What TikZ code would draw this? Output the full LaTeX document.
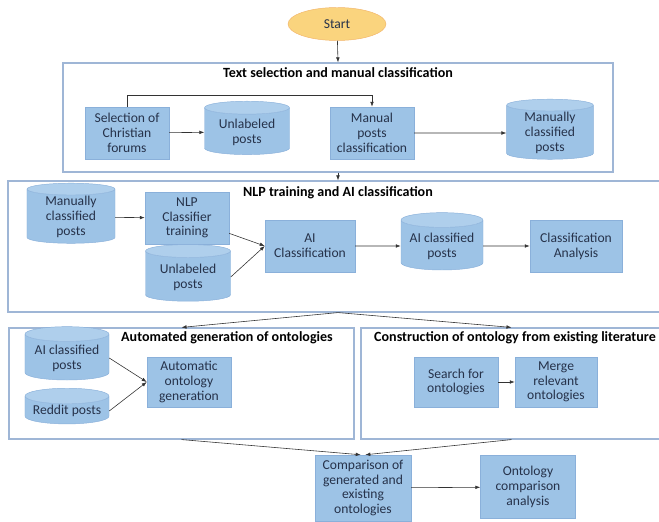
\documentclass[tikz,border=0pt]{standalone}
\usepackage{fontspec}
\setmainfont{Carlito}
\usetikzlibrary{shapes.geometric,arrows.meta}
\definecolor{boxfill}{HTML}{9DC3E6}
\definecolor{boxline}{HTML}{8AB0DA}
\definecolor{capfill}{HTML}{AFCFEC}
\definecolor{frameline}{HTML}{9FB6D6}
\definecolor{startfill}{HTML}{FAD47E}
\definecolor{startline}{HTML}{F2B56B}
\definecolor{txtblue}{HTML}{26324A}
\begin{document}
\begin{tikzpicture}[x=0.3mm,y=-0.3mm,
	every node/.style={font=\fontsize{11.6}{12.6}\selectfont, align=center},
	proc/.style={draw=boxline, fill=boxfill, text=txtblue, minimum width=25.2mm, minimum height=15.6mm, inner sep=1pt},
	db/.style={cylinder, shape border rotate=90, aspect=0.22, draw=boxline, cylinder uses custom fill, cylinder body fill=boxfill, cylinder end fill=capfill, text=txtblue, minimum width=25.5mm, minimum height=16mm, inner sep=1pt},
	frame/.style={draw=frameline, line width=0.35mm},
	title/.style={font=\fontsize{12}{14}\selectfont\bfseries},
	arr/.style={draw=black!80, line width=0.5pt, -{Latex[length=1.5mm,width=1.1mm]}}]

	\useasboundingbox (0,0) rectangle (659,522);

	\node[ellipse, draw=startline, fill=startfill, text=txtblue, minimum width=29.4mm, minimum height=9.9mm] (start) at (337,24) {Start};

	% frames
	\node[frame, minimum width=165mm, minimum height=32.7mm] (frTxt) at (338,117.5) {};
	\node[frame, minimum width=198mm, minimum height=39.3mm] (frNlp) at (338,246.5) {};
	\node[frame, minimum width=103.5mm, minimum height=33.3mm] (frAuto) at (181.5,383.5) {};
	\node[frame, minimum width=90.3mm, minimum height=33.3mm] (frLit) at (511.5,383.5) {};

	\node[title] (ttTxt) at (338,73) {Text selection and manual classification};
	\node[title] (ttNlp) at (338,193) {NLP training and AI classification};
	\node[title] (ttAuto) at (227,338) {Automated generation of ontologies};
	\node[title] (ttLit) at (515,338) {Construction of ontology from existing literature};

	% text selection
	\node[proc] (sel) at (127,133) {Selection of\\Christian\\forums};
	\node[db] (unl1) at (247,132) {Unlabeled\\posts};
	\node[proc] (man) at (372,133) {Manual\\posts\\classification};
	\node[db, minimum width=26mm, minimum height=17.5mm] (mcp1) at (550,133) {Manually\\classified\\posts};

	% nlp training
	\node[db, minimum width=26.4mm, minimum height=17.5mm] (mcp2) at (71,217) {Manually\\classified\\posts};
	\node[proc] (nlp) at (187,218) {NLP\\Classifier\\training};
	\node[db, minimum height=17mm] (unl2) at (188,277) {Unlabeled\\posts};
	\node[proc, minimum width=27mm] (aic) at (310,246) {AI\\Classification};
	\node[db, minimum width=24.6mm, minimum height=17.2mm] (aip1) at (442,246) {AI classified\\posts};
	\node[proc, minimum width=27.6mm] (cla) at (576,246) {Classification\\Analysis};

	% ontologies
	\node[db, minimum width=25.2mm] (aip2) at (67,358) {AI classified\\posts};
	\node[db, minimum width=25.2mm, minimum height=8.4mm] (red) at (67,411) {Reddit posts};
	\node[proc, minimum height=15mm] (aog) at (189,382) {Automatic\\ontology\\generation};
	\node[proc, minimum height=15mm] (sfo) at (456,382) {Search for\\ontologies};
	\node[proc, minimum width=24.6mm, minimum height=15mm] (mro) at (556,382) {Merge\\relevant\\ontologies};

	% comparison
	\node[proc, minimum width=28.8mm, minimum height=19.8mm] (cmp) at (363,488) {Comparison of\\generated and\\existing\\ontologies};
	\node[proc, minimum width=28.5mm, minimum height=18.9mm] (oca) at (528,487) {Ontology\\comparison\\analysis};

	\path (start) edge[arr] (frTxt.north);
	\draw[arr] (sel.north) -- ++(0,-11) -| (man.north);
	\path (sel) edge[arr] (unl1);
	\path (man) edge[arr] (mcp1);
	\path (frTxt.south) edge[arr] (frNlp.north);

	\path (mcp2) edge[arr] (nlp);
	\path (nlp.-20) edge[arr] (aic.west);
	\path (unl2.east) edge[arr] (aic.west);
	\path (aic) edge[arr] (aip1);
	\path (aip1) edge[arr] (cla);

	\path (frNlp.south) edge[arr] (frAuto.north);
	\path (frNlp.south) edge[arr] (frLit.north);
	\path (aip2.east) edge[arr] (aog.west);
	\path (red.east) edge[arr] (aog.west);
	\path (sfo) edge[arr] (mro);

	\path (frAuto.south) edge[arr] ([xshift=-0.7mm]cmp.north);
	\path (frLit.south) edge[arr] ([xshift=0.7mm]cmp.north);
	\path (cmp) edge[arr] (oca);

\end{tikzpicture}
\end{document}
